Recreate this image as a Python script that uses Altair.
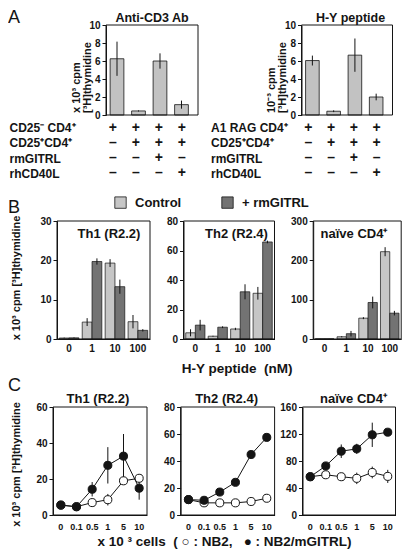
import altair as alt
import pandas as pd

FONT = "Liberation Sans"
INK = "#141414"

# ---------------- data ----------------
# Panel A
a_conditions = ["c1", "c2", "c3", "c4"]
a1_values = [6.25, 0.45, 6.0, 1.15]
a1_errors = [1.9, 0.06, 0.85, 0.45]
a2_values = [6.05, 0.42, 6.65, 2.0]
a2_errors = [0.55, 0.1, 1.85, 0.37]
a1_rows = ["CD25⁻ CD4⁺", "CD25⁺CD4⁺", "rmGITRL", "rhCD40L"]
a2_rows = ["A1 RAG CD4⁺", "CD25⁺CD4⁺", "rmGITRL", "rhCD40L"]
a_signs = [["+", "+", "+", "+"],
           ["–", "+", "+", "+"],
           ["–", "–", "+", "–"],
           ["–", "–", "–", "+"]]

# Panel B
b_doses = ["0", "1", "10", "100"]
b_series = ["Control", "+ rmGITRL"]
b_th1_control = [0.25, 4.3, 19.3, 4.4]
b_th1_control_err = [0.1, 1.0, 1.0, 1.7]
b_th1_gitrl = [0.3, 19.7, 13.3, 2.2]
b_th1_gitrl_err = [0.1, 0.8, 1.8, 0.3]
b_th2_control = [4.2, 1.9, 6.8, 31.0]
b_th2_control_err = [2.4, 0.3, 0.8, 4.3]
b_th2_gitrl = [9.4, 8.0, 32.0, 65.8]
b_th2_gitrl_err = [3.6, 0.6, 5.1, 0.9]
b_naive_control = [0.5, 5.7, 53.0, 222.0]
b_naive_control_err = [0.2, 1.5, 2.5, 11.5]
b_naive_gitrl = [0.5, 13.5, 92.8, 65.7]
b_naive_gitrl_err = [0.2, 7.0, 15.0, 5.8]

# Panel C
c_doses = ["0", "0.1", "0.5", "1", "5", "10"]
c_th1_nb2 = [5.5, 4.6, 6.9, 8.5, 19.0, 20.4]
c_th1_nb2_err = [0, 0, 1.0, 3.2, 0.8, 0.8]
c_th1_gitrl = [5.5, 4.6, 14.3, 27.6, 32.7, 14.9]
c_th1_gitrl_err = [0, 0, 4.0, 10.1, 12.3, 6.4]
c_th2_nb2 = [11.4, 9.0, 9.0, 9.0, 10.0, 12.4]
c_th2_nb2_err = [0, 0, 0, 0, 0, 0]
c_th2_gitrl = [11.4, 10.9, 17.0, 24.2, 44.8, 57.5]
c_th2_gitrl_err = [0, 0, 0, 0, 2.2, 2.2]
c_naive_nb2 = [56.7, 59.6, 56.7, 54.3, 63.0, 57.2]
c_naive_nb2_err = [0, 0, 0, 8.5, 8.7, 9.7]
c_naive_gitrl = [56.7, 72.7, 94.5, 98.0, 118.8, 122.7]
c_naive_gitrl_err = [0, 3.5, 10.0, 7.5, 18.0, 0]

W, H = 394, 540


def text_layer(text, x, y, size=13, weight="bold", align="center"):
    return alt.Chart(pd.DataFrame({"t": [text]})).mark_text(
        font=FONT, fontSize=size, fontWeight=weight, align=align,
        baseline="alphabetic", color=INK
    ).encode(text="t:N", x=alt.value(x), y=alt.value(y))


def frame(x0, x1, y0, y1):
    return alt.Chart(pd.DataFrame({"f": [0]})).mark_rect(
        fill="transparent", stroke=INK, strokeWidth=1
    ).encode(x=alt.value(x0), x2=alt.value(x1), y=alt.value(y0), y2=alt.value(y1))


# ---------------- panel A ----------------
A_TOP, A_BOT = 16, 106


def a_panel(values, errors, x0, x1, ytitle):
    df = pd.DataFrame({
        "cond": a_conditions,
        "value": values,
        "lo": [v - e for v, e in zip(values, errors)],
        "hi": [v + e for v, e in zip(values, errors)],
    })
    xs = alt.Scale(domain=a_conditions, range=[x0, x1], paddingInner=0.36,
                   paddingOuter=0.32, align=0.3)
    x = alt.X("cond:N", scale=xs, axis=None)
    ysc = alt.Scale(domain=[0, 10], range=[A_BOT, A_TOP], nice=False)
    yax = alt.Axis(orient="left", offset=-x0, values=[0, 2, 4, 6, 8, 10], title=ytitle,
                   titleX=-25, titleY=A_BOT - 2.5, titleAlign="left", titleBaseline="bottom",
                   titleLineHeight=11, titleFontSize=11)
    bars = alt.Chart(df).mark_bar(fill="#c2c2c2", stroke=INK, strokeWidth=0.8).encode(
        x=x, y=alt.Y("value:Q", scale=ysc, axis=yax))
    err = alt.Chart(df).mark_rule(color=INK, strokeWidth=1).encode(
        x=x, y=alt.Y("lo:Q", scale=ysc, axis=yax), y2="hi:Q")
    return alt.layer(bars, err)


def a_table(rows, x0, x1, label_pad):
    recs = []
    for r, row in enumerate(rows):
        for c, cond in enumerate(a_conditions):
            recs.append({"row": row, "cond": cond, "sign": a_signs[r][c]})
    df = pd.DataFrame(recs)
    xs = alt.Scale(domain=a_conditions, range=[x0, x1], paddingInner=0.36,
                   paddingOuter=0.32, align=0.3)
    return alt.Chart(df).mark_text(font=FONT, fontSize=14, fontWeight="bold", color=INK).encode(
        x=alt.X("cond:N", scale=xs, axis=None),
        y=alt.Y("row:N", sort=rows,
                scale=alt.Scale(domain=rows, range=[111, 172], paddingInner=0,
                                paddingOuter=0),
                axis=alt.Axis(orient="left", offset=-x0, title=None, domain=False,
                              ticks=False, labelAlign="left", labelPadding=label_pad,
                              labelFontSize=12, labelBaseline="middle")),
        text="sign:N",
    )


A1X, A2X = (98, 190), (293.5, 384.5)
panel_a = [
    a_panel(a1_values, a1_errors, *A1X, ["x 10³ cpm", "[³H]thymidine"]),
    a_panel(a2_values, a2_errors, *A2X, ["10⁻³ cpm", "[³H]thymidine"]),
    a_table(a1_rows, *A1X, 97),
    a_table(a2_rows, *A2X, 91),
    frame(A1X[0], A1X[1], A_TOP, A_BOT),
    frame(A2X[0], A2X[1], A_TOP, A_BOT),
    text_layer("A", 0, 13.7, 18, "normal", "left"),
    text_layer("Anti-CD3 Ab", 144, 13, 12.5),
    text_layer("H-Y peptide", 342.5, 13, 12.5),
]

# ---------------- panel B ----------------
B_TOP, B_BOT = 212, 330
b_legend = alt.Legend(orient="none", legendX=106, legendY=187, direction="horizontal",
                      title=None, symbolType="square", symbolSize=130,
                      symbolStrokeColor=INK, symbolStrokeWidth=0.8, symbolOpacity=1,
                      labelFont=FONT, labelFontSize=13, labelFontWeight="bold",
                      labelColor=INK, labelOffset=8, columnPadding=38, padding=0)


def b_panel(ctrl, ctrl_err, gitrl, gitrl_err, ymax, yvals, x0, x1, ytitle=None,
            xtitle=None):
    recs = []
    for s, vals, errs in (("Control", ctrl, ctrl_err), ("+ rmGITRL", gitrl, gitrl_err)):
        for d, v, e in zip(b_doses, vals, errs):
            recs.append({"dose": d, "series": s, "value": v, "lo": v - e, "hi": v + e})
    df = pd.DataFrame(recs)
    x = alt.X("dose:N", sort=b_doses,
              scale=alt.Scale(domain=b_doses, range=[x0, x1], paddingInner=0.145,
                              paddingOuter=0.1),
              axis=alt.Axis(orient="bottom", offset=B_BOT - H, title=xtitle, labelAngle=0,
                            ticks=False, labelPadding=4, labelFontSize=10,
                            titleX=228.6, titleY=33, titleAlign="center",
                            titleBaseline="alphabetic", titleFontSize=13.5))
    xo = alt.XOffset("series:N", sort=b_series,
                     scale=alt.Scale(domain=b_series, paddingInner=0, paddingOuter=0))
    ysc = alt.Scale(domain=[0, ymax], range=[B_BOT, B_TOP], nice=False)
    yax = alt.Axis(orient="left", offset=-x0, values=yvals, title=ytitle, titleX=-36,
                   titleY=268.5, titleAlign="center", titleBaseline="bottom", tickSize=4)
    bars = alt.Chart(df).mark_bar(stroke=INK, strokeWidth=0.7).encode(
        x=x, xOffset=xo,
        y=alt.Y("value:Q", scale=ysc, axis=yax),
        fill=alt.Fill("series:N", sort=b_series,
                      scale=alt.Scale(domain=b_series, range=["#c6c6c6", "#737373"]),
                      legend=b_legend))
    err = alt.Chart(df).mark_rule(color=INK, strokeWidth=1).encode(
        x=x, xOffset=xo, y=alt.Y("lo:Q", scale=ysc, axis=yax), y2="hi:Q")
    return alt.layer(bars, err)


B1X, B2X, B3X = (49, 142), (175.5, 266.5), (305.2, 393.2)
panel_b = [
    b_panel(b_th1_control, b_th1_control_err, b_th1_gitrl, b_th1_gitrl_err, 30,
            [0, 10, 20, 30], *B1X, ytitle="x 10³ cpm [³H]thymidine"),
    b_panel(b_th2_control, b_th2_control_err, b_th2_gitrl, b_th2_gitrl_err, 80,
            [0, 20, 40, 60, 80], *B2X, xtitle="H-Y peptide\u00a0 (nM)"),
    b_panel(b_naive_control, b_naive_control_err, b_naive_gitrl, b_naive_gitrl_err, 300,
            [0, 100, 200, 300], *B3X),
    frame(B1X[0], B1X[1], B_TOP, B_BOT),
    frame(B2X[0], B2X[1], B_TOP, B_BOT),
    frame(B3X[0], B3X[1], B_TOP, B_BOT),
    text_layer("B", 0, 204.4, 18, "normal", "left"),
    text_layer("Th1 (R2.2)", 101, 229),
    text_layer("Th2 (R2.4)", 228.5, 229),
    text_layer("naïve CD4⁺", 346, 229),
]

# ---------------- panel C ----------------
C_TOP, C_BOT = 398, 506


def c_panel(nb2, nb2_err, gitrl, gitrl_err, ymax, yvals, x0, x1, ytitle=None, xtitle=None):
    recs = []
    for s, vals, errs in (("NB2", nb2, nb2_err), ("NB2/mGITRL", gitrl, gitrl_err)):
        for d, v, e in zip(c_doses, vals, errs):
            recs.append({"dose": d, "series": s, "value": v, "lo": v - e, "hi": v + e})
    df = pd.DataFrame(recs)
    x = alt.X("dose:N", sort=c_doses, scale=alt.Scale(domain=c_doses, range=[x0, x1]),
              axis=alt.Axis(orient="bottom", offset=C_BOT - H, title=xtitle, labelAngle=0,
                            ticks=False, labelPadding=7, labelFontSize=9,
                            titleX=216, titleY=30, titleAlign="center",
                            titleBaseline="alphabetic", titleFontSize=13.5))
    ysc = alt.Scale(domain=[0, ymax], range=[C_BOT, C_TOP], nice=False)
    yax = alt.Axis(orient="left", offset=-x0, values=yvals, title=ytitle, titleX=-32,
                   titleY=455, titleAlign="center", titleBaseline="bottom", tickSize=4)
    y = alt.Y("value:Q", scale=ysc, axis=yax)
    base = alt.Chart(df)
    line = base.mark_line(color=INK, strokeWidth=1).encode(x=x, y=y, detail="series:N")
    err = base.mark_rule(color=INK, strokeWidth=1).encode(
        x=x, y=alt.Y("lo:Q", scale=ysc, axis=yax), y2="hi:Q")
    open_pts = base.transform_filter(alt.datum.series == "NB2").mark_point(
        shape="circle", filled=True, fill="white", stroke=INK, strokeWidth=1, size=65,
        opacity=1).encode(x=x, y=y)
    full_pts = base.transform_filter(alt.datum.series == "NB2/mGITRL").mark_point(
        shape="circle", filled=True, fill=INK, stroke=INK, strokeWidth=1, size=65,
        opacity=1).encode(x=x, y=y)
    return alt.layer(line, err, open_pts, full_pts)


C1X, C2X, C3X = (45, 139), (172.6, 266.6), (294.5, 387.5)
panel_c = [
    c_panel(c_th1_nb2, c_th1_nb2_err, c_th1_gitrl, c_th1_gitrl_err, 60, [0, 20, 40, 60],
            *C1X, ytitle="x 10³ cpm [³H]thymidine"),
    c_panel(c_th2_nb2, c_th2_nb2_err, c_th2_gitrl, c_th2_gitrl_err, 80,
            [0, 20, 40, 60, 80], *C2X,
            xtitle="x 10 ³ cells\u00a0 ( ○ : NB2,\u00a0\u00a0 ● : NB2/mGITRL)"),
    c_panel(c_naive_nb2, c_naive_nb2_err, c_naive_gitrl, c_naive_gitrl_err, 160,
            [0, 40, 80, 120, 160], *C3X),
    frame(C1X[0], C1X[1], C_TOP, C_BOT),
    frame(C2X[0], C2X[1], C_TOP, C_BOT),
    frame(C3X[0], C3X[1], C_TOP, C_BOT),
    text_layer("C", 0, 382.4, 18, "normal", "left"),
    text_layer("Th1 (R2.2)", 90, 394),
    text_layer("Th2 (R2.4)", 218.6, 394),
    text_layer("naïve CD4⁺", 345.5, 394),
]

chart = alt.layer(*panel_a, *panel_b, *panel_c).resolve_scale(
    x="independent", y="independent", xOffset="independent"
).properties(width=W, height=H, padding=0).configure(font=FONT).configure_view(
    stroke="transparent"
).configure_axis(
    labelFont=FONT, labelFontWeight="bold", labelFontSize=10, labelColor=INK,
    titleFont=FONT, titleFontWeight="bold", titleFontSize=11, titleColor=INK,
    domainColor=INK, tickColor=INK, tickSize=4, grid=False, labelPadding=2
)

chart.save("out.html", embed_options={"renderer": "svg", "actions": False})
